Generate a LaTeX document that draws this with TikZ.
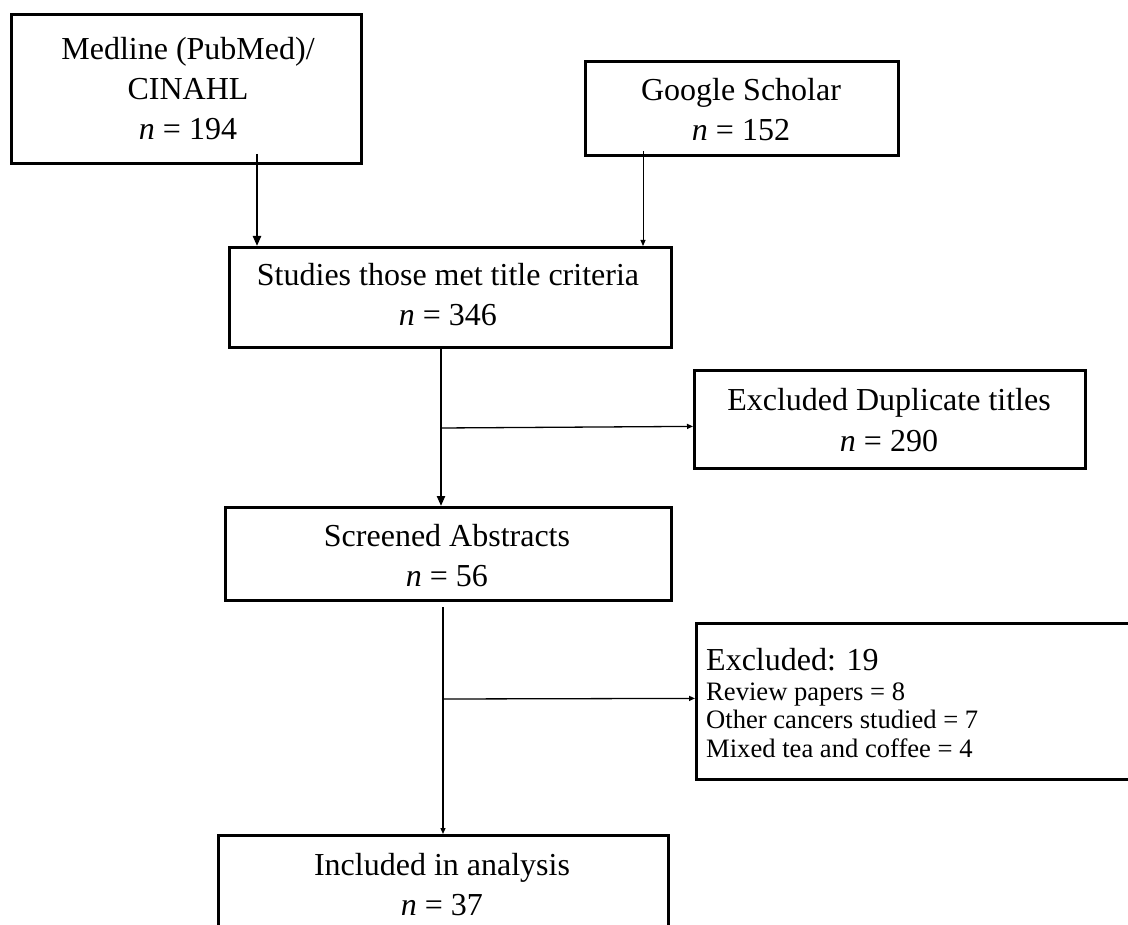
\documentclass[tikz,border=0pt]{standalone}
\usepackage{fontspec}
\setmainfont{Liberation Serif}
\usetikzlibrary{arrows.meta}
\begin{document}
\begin{tikzpicture}[x=1pt,y=-1pt,
  frame/.style={draw, line width=2.8pt, inner sep=0pt, anchor=north west},
  txt/.style={align=center, font=\fontsize{32}{40}\selectfont, anchor=base, inner sep=0pt},
  bigarrow/.style={line width=2.2pt, -{Triangle[length=10pt,width=8pt]}},
  smallarrow/.style={line width=1.3pt, -{Triangle[length=6pt,width=5pt]}},
  hairarrow/.style={line width=1pt, -{Triangle[length=6pt,width=5pt]}},
]
\useasboundingbox (0,0) rectangle (1128,925);
\clip (0,0) rectangle (1128,925);

% boxes (text nodes are placed at the baseline of their last line)
\node[frame, minimum width=350pt, minimum height=149pt] (med) at (10,13) {};
\node[txt] (medt) at (188,139.5) {Medline (PubMed)/\\CINAHL\\\textit{n} = 194};

\node[frame, minimum width=313pt, minimum height=94pt] (gs) at (584,60) {};
\node[txt] (gst) at (741,141) {Google Scholar\\\textit{n} = 152};

\node[frame, minimum width=442pt, minimum height=100pt] (st) at (228,246) {};
\node[txt] (stt) at (448,326) {Studies those met title criteria\\\textit{n} = 346};

\node[frame, minimum width=391pt, minimum height=98pt] (exd) at (693,369) {};
\node[txt] (exdt) at (889,451) {Excluded Duplicate titles\\\textit{n} = 290};

\node[frame, minimum width=446pt, minimum height=93pt] (sc) at (224,506) {};
\node[txt] (sct) at (447,586) {Screened Abstracts\\\textit{n} = 56};

\node[frame, minimum width=460pt, minimum height=156pt] (ex) at (695,622) {};
\node[anchor=base west, inner sep=0pt, font=\fontsize{32}{40}\selectfont] (exh) at (706,670) {Excluded: 19};
\node[anchor=base west, inner sep=0pt, align=left, font=\fontsize{26.6}{28.5}\selectfont] (ext) at (706,757) {Review papers = 8\\Other cancers studied = 7\\Mixed tea and coffee = 4};

\node[frame, minimum width=450pt, minimum height=130pt] (inc) at (217,834) {};
\node[txt] (inct) at (442,915) {Included in analysis\\\textit{n} = 37};

% connector coordinates
\coordinate (a1) at (257,154);
\coordinate (a2) at (643,151);
\coordinate (j1) at (441,428);
\coordinate (l2) at (443,607);
\coordinate (j2) at (443,699);

% connectors
\draw[bigarrow] (a1) -- (a1 |- st.north);
\draw[hairarrow] (a2) -- (a2 |- st.north);
\draw[bigarrow] (st.south -| j1) -- (sc.north -| j1);
\draw[smallarrow] (j1) -- ([yshift=-7pt]exd.west);
\draw[smallarrow] (l2) -- (l2 |- inc.north);
\draw[smallarrow] (j2) -- ([yshift=3pt]ex.west);
\end{tikzpicture}
\end{document}
